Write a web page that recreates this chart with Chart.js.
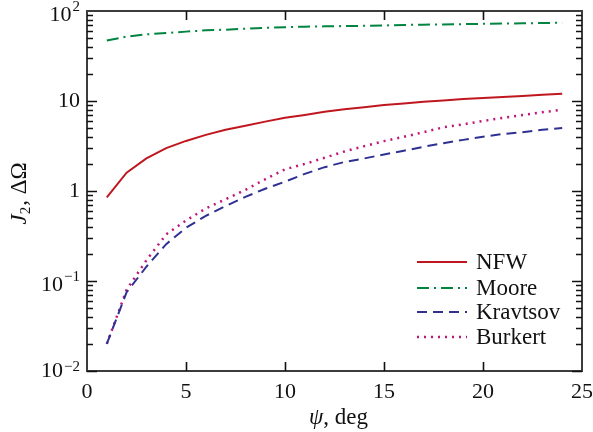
<!DOCTYPE html>
<html>
<head>
<meta charset="utf-8">
<script src="https://cdn.jsdelivr.net/npm/chart.js@4/dist/chart.umd.min.js"></script>
<style>
  html, body { margin: 0; padding: 0; background: #fff; }
  #wrap { width: 593px; height: 432px; }
</style>
</head>
<body>
<div id="wrap"><canvas id="c" width="593" height="432"></canvas></div>
<script>
// psi, deg
const psi = [1, 2, 3, 4, 5, 6, 7, 8, 9, 10, 11, 12, 13, 14, 15, 16, 17, 18, 19, 20, 21, 22, 23, 24];

const nfw      = [0.85, 1.6, 2.3, 3.0, 3.6, 4.2, 4.8, 5.3, 5.9, 6.5, 7.0, 7.6, 8.1, 8.5, 9.0, 9.4, 9.8, 10.1, 10.5, 10.8, 11.1, 11.4, 11.7, 12.0];
const moore    = [47, 52, 55, 57, 59, 61, 62, 63.5, 65, 66, 67, 67.5, 68, 68.5, 69, 70, 70.5, 71, 71.5, 72, 72.5, 73, 73.5, 74];
const kravtsov = [0.020, 0.075, 0.144, 0.257, 0.39, 0.53, 0.68, 0.86, 1.06, 1.27, 1.55, 1.84, 2.1, 2.3, 2.55, 2.8, 3.1, 3.4, 3.7, 4.0, 4.3, 4.5, 4.8, 5.0];
const burkert  = [0.020, 0.08, 0.17, 0.33, 0.47, 0.64, 0.81, 1.03, 1.35, 1.74, 2.0, 2.34, 2.75, 3.15, 3.58, 4.0, 4.5, 5.1, 5.5, 6.0, 6.5, 7.0, 7.5, 8.0];

const xTicks = [0, 5, 10, 15, 20, 25];
const yTicks = [100, 10, 1, 0.1, 0.01];
const yTickText = [['10', '2'], ['10', ''], ['1', ''], ['10', '\u22121'], ['10', '\u22122']];

const seriesNames = ['NFW', 'Moore', 'Kravtsov', 'Burkert'];

const FONT = '"Liberation Serif", "Times New Roman", serif';

function pts(ys) {
  return psi.map((x, i) => ({ x: x, y: ys[i] }));
}

const frame = {
  id: 'frame',
  afterDraw(chart) {
    const ctx = chart.ctx, a = chart.chartArea;
    const xs = chart.scales.x, ys = chart.scales.y;
    ctx.save();

    // box
    ctx.strokeStyle = '#3c3c3c';
    ctx.lineWidth = 2;
    ctx.strokeRect(a.left, a.top, a.right - a.left, a.bottom - a.top);

    // log ticks, inside on both sides
    ctx.strokeStyle = '#111';
    ctx.lineWidth = 1.6;
    for (let e = -2; e < 2; e++) {
      for (let m = 1; m <= 9; m++) {
        const y = Math.round(ys.getPixelForValue(m * Math.pow(10, e))) + 0.5;
        const len = m === 1 ? 10 : 6;
        ctx.beginPath();
        ctx.moveTo(a.left, y); ctx.lineTo(a.left + len, y);
        ctx.moveTo(a.right, y); ctx.lineTo(a.right - len, y);
        ctx.stroke();
      }
    }
    // x ticks
    xTicks.slice(1, -1).forEach(v => {
      const x = Math.round(xs.getPixelForValue(v)) + 0.5;
      ctx.beginPath();
      ctx.moveTo(x, a.bottom); ctx.lineTo(x, a.bottom - 9);
      ctx.moveTo(x, a.top); ctx.lineTo(x, a.top + 9);
      ctx.stroke();
    });

    // x labels
    ctx.fillStyle = '#111';
    ctx.font = '22px ' + FONT;
    ctx.textAlign = 'center';
    ctx.textBaseline = 'middle';
    xTicks.forEach(v => {
      ctx.fillText(String(v), xs.getPixelForValue(v), a.bottom + 21);
    });

    // y labels with superscripts
    yTicks.forEach((v, i) => {
      const y = ys.getPixelForValue(v);
      const base = yTickText[i][0], sup = yTickText[i][1];
      let right = a.left - 7;
      ctx.textAlign = 'right';
      ctx.textBaseline = 'middle';
      if (sup) {
        ctx.font = '15px ' + FONT;
        const w = ctx.measureText(sup).width;
        ctx.fillText(sup, right, y - 4);
        right -= w + 1;
        ctx.font = '22px ' + FONT;
        ctx.fillText(base, right, y + (i === 4 ? 0 : 4));
      } else {
        ctx.font = '22px ' + FONT;
        ctx.fillText(base, right, y);
      }
    });

    // x title: psi, deg
    ctx.textBaseline = 'middle';
    ctx.textAlign = 'left';
    const cx = (a.left + a.right) / 2 + 4, ty = a.bottom + 47;
    ctx.font = 'italic 23px ' + FONT;
    const w1 = ctx.measureText('\u03c8').width;
    ctx.font = '23px ' + FONT;
    const w2 = ctx.measureText(', deg').width;
    let sx = cx - (w1 + w2) / 2;
    ctx.font = 'italic 23px ' + FONT;
    ctx.fillText('\u03c8', sx, ty);
    ctx.font = '23px ' + FONT;
    ctx.fillText(', deg', sx + w1, ty);

    // y title: J2, dOmega (rotated)
    ctx.save();
    ctx.translate(20, (a.top + a.bottom) / 2 + 3);
    ctx.rotate(-Math.PI / 2);
    ctx.font = 'italic 23px ' + FONT;
    const jw = ctx.measureText('J').width;
    ctx.font = '15px ' + FONT;
    const sw = ctx.measureText('2').width;
    ctx.font = '23px ' + FONT;
    const rw = ctx.measureText(', \u0394\u03a9').width;
    let px = -(jw + sw + rw) / 2;
    ctx.font = 'italic 23px ' + FONT;
    ctx.fillText('J', px, 0);
    ctx.font = '15px ' + FONT;
    ctx.fillText('2', px + jw, 6);
    ctx.font = '23px ' + FONT;
    ctx.fillText(', \u0394\u03a9', px + jw + sw + 1, 0);
    ctx.restore();

    // legend
    const lx0 = 417, lx1 = 467, tx = 476;
    const rows = [262, 288, 312, 337];
    chart.data.datasets.forEach((ds, i) => {
      ctx.strokeStyle = ds.borderColor;
      ctx.lineWidth = ds.borderWidth;
      ctx.setLineDash(ds.borderDash || []);
      ctx.beginPath();
      ctx.moveTo(lx0, rows[i]); ctx.lineTo(lx1, rows[i]);
      ctx.stroke();
      ctx.setLineDash([]);
      ctx.fillStyle = '#111';
      ctx.font = '23px ' + FONT;
      ctx.textAlign = 'left';
      ctx.textBaseline = 'middle';
      ctx.fillText(ds.label, tx, rows[i] + 1);
    });

    ctx.restore();
  }
};

new Chart(document.getElementById('c'), {
  type: 'line',
  data: {
    datasets: [
      { label: seriesNames[0], data: pts(nfw), borderColor: '#c0171f', borderWidth: 2, pointRadius: 0 },
      { label: seriesNames[1], data: pts(moore), borderColor: '#00843f', borderWidth: 2, borderDash: [12, 5, 2, 5], pointRadius: 0 },
      { label: seriesNames[2], data: pts(kravtsov), borderColor: '#2e3192', borderWidth: 2, borderDash: [10, 6], pointRadius: 0 },
      { label: seriesNames[3], data: pts(burkert), borderColor: '#c0157a', borderWidth: 2.5, borderDash: [2, 5], pointRadius: 0 }
    ]
  },
  options: {
    responsive: false,
    animation: false,
    layout: { padding: { left: 0, right: 11, top: 11, bottom: 0 } },
    plugins: { legend: { display: false }, tooltip: { enabled: false } },
    elements: { line: { tension: 0 } },
    scales: {
      x: {
        type: 'linear', min: 0, max: 25,
        grid: { display: false }, border: { display: false },
        ticks: { display: false },
        afterFit: s => { s.height = 61; }
      },
      y: {
        type: 'logarithmic', min: 0.01, max: 100,
        grid: { display: false }, border: { display: false },
        ticks: { display: false },
        afterFit: s => { s.width = 87; }
      }
    }
  },
  plugins: [frame]
});
</script>
</body>
</html>
